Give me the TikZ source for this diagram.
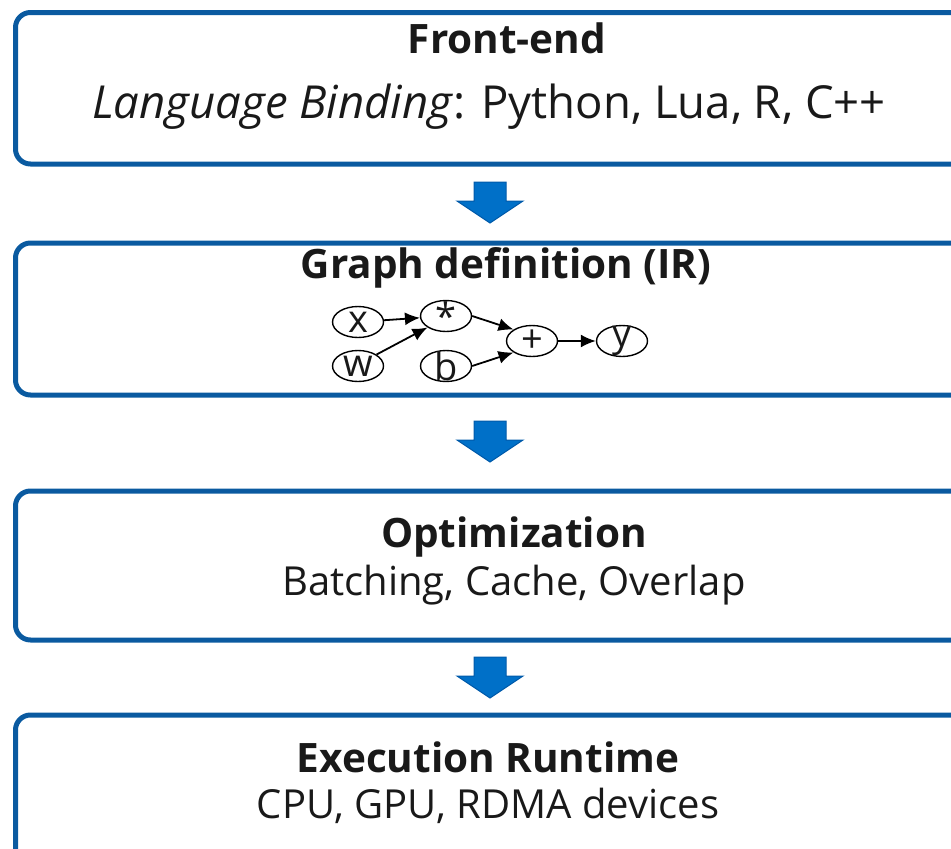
\documentclass[tikz,border=0pt]{standalone}
\usepackage{fontspec}
\setmainfont{Open Sans}
\usetikzlibrary{shapes.geometric,arrows.meta}
\definecolor{boxblue}{RGB}{10,90,160}
\definecolor{arrfill}{RGB}{0,112,200}
\definecolor{arredge}{RGB}{0,90,170}
\definecolor{txt}{RGB}{25,25,25}
\tikzset{
  stage/.style={draw=boxblue, line width=5pt, rounded corners=15pt},
  title/.style={font=\fontsize{40.5}{44}\selectfont\bfseries, text=txt, inner sep=0pt},
  sub/.style={font=\fontsize{40}{44}\selectfont, text=txt, inner sep=0pt},
  gnode/.style={draw=black, ellipse, line width=1.4pt, minimum width=51pt, minimum height=31pt, inner sep=0pt,
    label={[font=\fontsize{38}{38}\selectfont, text=txt, inner sep=0pt]center:#1}},
  garr/.style={-{Latex[length=15pt,width=13pt]}, line width=1.8pt},
  blockarr/.style={fill=arrfill, draw=arredge, line width=1pt}
}
\newcommand{\downarrowat}[2]{%
  \draw[blockarr] (#1-16,#2) -- (#1+16,#2) -- (#1+16,#2+19) -- (#1+33,#2+19) -- (#1,#2+41) -- (#1-33,#2+19) -- (#1-16,#2+19) -- cycle;}
\begin{document}
\begin{tikzpicture}[x=1pt,y=-1pt]
\useasboundingbox (0,0) rectangle (951,849);
\clip (0,0) rectangle (951,849);
% boxes
\draw[stage] (15.5,12.5) rectangle (985,164);
\draw[stage] (15.5,243) rectangle (985,395);
\draw[stage] (15.5,491) rectangle (985,640);
\draw[stage] (15.5,715) rectangle (985,880);
% texts
\node[title] (t1) at (507,38) {Front-end};
\node[sub, font=\fontsize{45.5}{50}\selectfont] (s1) at (489,107) {\textit{Language Binding}: Python, Lua, R, C++};
\node[title] (t2) at (506,268) {Graph definition (IR)};
\node[title] (t3) at (514,537) {Optimization};
\node[sub] (s3) at (514,585) {Batching, Cache, Overlap};
\node[title] (t4) at (488,757) {Execution Runtime};
\node[sub] (s4) at (488,806) {CPU, GPU, RDMA devices};
% graph
\node[gnode=x] (x) at (358,322) {};
\node[gnode=w] (w) at (358,366) {};
\node[gnode=*] (m) at (446,316) {};
\node[gnode=b] (b) at (446,366) {};
\node[gnode=+] (p) at (532,341) {};
\node[gnode=y] (y) at (622,341) {};
\draw[garr] (x) -- (m);
\draw[garr] (w.north east) -- (m.south west);
\draw[garr] (m.east) -- (p.north west);
\draw[garr] (b.east) -- (p.south west);
\draw[garr] (p) -- (y);
% block arrows
\downarrowat{490}{182}
\downarrowat{490}{421}
\downarrowat{490}{657}
\end{tikzpicture}
\end{document}
